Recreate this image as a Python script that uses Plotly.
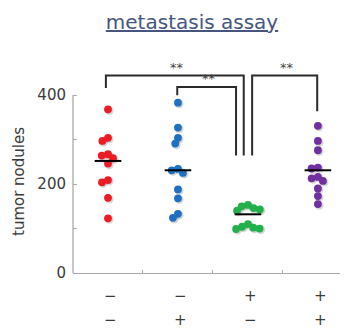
import numpy as np
import plotly.graph_objects as go

# ---------------- data ----------------
row1_labels = ["−", "−", "+", "+"]
row2_labels = ["−", "+", "−", "+"]
group_colors = ["#ec1c24", "#1f70c1", "#21b04b", "#7030a0"]

red_values = [368, 304, 297, 267, 264, 258, 246, 209, 204, 169, 123]
blue_values = [383, 327, 304, 291, 234, 231, 225, 188, 168, 133, 124]
green_values = [153, 150, 146, 143, 140, 110, 104, 102, 100, 99]
purple_values = [331, 297, 276, 237, 235, 216, 213, 207, 190, 173, 155]
group_means = [252, 231, 132, 231]

y_tick_values = [0, 100, 200, 300, 400]
y_tick_labels = ["0", "", "200", "", "400"]

# significance comparisons: (group a, group b, label)
comparisons = [(0, 2, "**"), (1, 2, "**"), (2, 3, "**")]

groups = [red_values, blue_values, green_values, purple_values]

# ---------------- layout constants ----------------
# the page body adds an 8px margin, so the figure is 8px smaller than the window
W, H = 340, 321
ML, MR, MT, MB = 65, 0, 56, 56
X_RANGE = [-0.5, 3.43]
Y_RANGE = [0, 470]
plot_w = W - ML - MR
plot_h = H - MT - MB
PX_X = plot_w / (X_RANGE[1] - X_RANGE[0])   # pixels per category unit
PX_Y = plot_h / (Y_RANGE[1] - Y_RANGE[0])   # pixels per value unit
FONT = "DejaVu Sans"
TEXT = "#3a3a3a"
AXIS = "#a9a9a9"


def swarm(values, diameter=6.4):
    """Simple beeswarm: place points (largest first) as close to centre as possible."""
    order = sorted(range(len(values)), key=lambda k: -values[k])
    placed = []
    offs = [0.0] * len(values)
    for k in order:
        y = values[k] * PX_Y
        cands = [0.0]
        intervals = []
        for px, py in placed:
            dy = abs(py - y)
            if dy < diameter:
                w = np.sqrt(diameter ** 2 - dy ** 2)
                intervals.append((px - w, px + w))
                cands += [px - w, px + w]
        ok = [c for c in cands if all(not (a + 1e-6 < c < b - 1e-6) for a, b in intervals)]
        best = min(ok, key=lambda c: (abs(c), c))
        placed.append((best, y))
        offs[k] = best / PX_X
    return offs


fig = go.Figure()

# shadows first
for i, vals in enumerate(groups):
    offs = swarm(vals)
    xs = [i + o + 1.3 / PX_X for o in offs]
    ys = [v - 1.3 / PX_Y for v in vals]
    fig.add_trace(go.Scatter(x=xs, y=ys, mode="markers",
                             marker=dict(size=8.5, color="rgba(0,0,0,0.16)", line=dict(width=0)),
                             hoverinfo="skip", showlegend=False))

for i, vals in enumerate(groups):
    offs = swarm(vals)
    xs = [i + o for o in offs]
    fig.add_trace(go.Scatter(x=xs, y=vals, mode="markers",
                             marker=dict(size=7.8, color=group_colors[i], line=dict(width=0)),
                             showlegend=False))

# mean lines
mx, my = [], []
for i, m in enumerate(group_means):
    mx += [i - 0.19, i + 0.19, None]
    my += [m, m, None]
fig.add_trace(go.Scatter(x=mx, y=my, mode="lines", line=dict(color="black", width=2),
                         hoverinfo="skip", showlegend=False))

# significance brackets (layout decoration)
bracket_geom = {
    (0, 2): dict(xa=-0.03, xb=1.94, top=444, ya=416, yb=264),
    (1, 2): dict(xa=0.99, xb=1.83, top=418, ya=400, yb=264),
    (2, 3): dict(xa=2.06, xb=2.99, top=444, ya=264, yb=364),
}
for a, b, lab in comparisons:
    g = bracket_geom[(a, b)]
    fig.add_shape(type="path",
                  path=f"M {g['xa']},{g['ya']} L {g['xa']},{g['top']} L {g['xb']},{g['top']} L {g['xb']},{g['yb']}",
                  xref="x", yref="y", line=dict(color="#2b2b2b", width=2))
    fig.add_annotation(x=(g['xa'] + g['xb']) / 2 + 0.03, y=g['top'], xref="x", yref="y",
                       text=lab, showarrow=False, xanchor="center", yanchor="bottom", yshift=-1,
                       font=dict(family=FONT, size=13, color="#444444"))

# y axis line only from 0 to 400
fig.add_shape(type="line", xref="paper", yref="y", x0=0, x1=0, y0=0, y1=400,
              line=dict(color=AXIS, width=1.3))

# two rows of +/- labels
for i in range(4):
    fig.add_annotation(x=i + 0.04, y=-23 / plot_h, xref="x", yref="paper", text=row1_labels[i],
                       showarrow=False, xanchor="center", yanchor="middle", borderpad=0,
                       font=dict(family=FONT, size=15, color=TEXT))
    fig.add_annotation(x=i + 0.04, y=-47 / plot_h, xref="x", yref="paper", text=row2_labels[i],
                       showarrow=False, xanchor="center", yanchor="middle", borderpad=0,
                       font=dict(family=FONT, size=15, color=TEXT))

# y axis title
fig.add_annotation(x=(11 - ML) / plot_w, y=(H - MB - 174) / plot_h, xref="paper", yref="paper",
                   text="tumor nodules", textangle=-90, showarrow=False,
                   xanchor="center", yanchor="middle",
                   font=dict(family=FONT, size=15, color=TEXT))

fig.update_layout(
    width=W, height=H,
    margin=dict(l=ML, r=MR, t=MT, b=MB, pad=0),
    paper_bgcolor="white", plot_bgcolor="white",
    title=dict(text="<u>metastasis assay</u>", x=184 / W, xref="container", xanchor="center",
               y=1 - 14 / H, yref="container", yanchor="middle",
               font=dict(family=FONT, size=20, color="#46557f")),
    xaxis=dict(range=X_RANGE, showgrid=False, zeroline=False, showline=True, linecolor=AXIS,
               linewidth=1.3, tickvals=[0.5, 1.5, 2.5], ticks="inside", ticklen=3,
               tickcolor=AXIS, tickwidth=1.2, showticklabels=False),
    yaxis=dict(range=Y_RANGE, showgrid=False, zeroline=False, showline=False,
               tickvals=y_tick_values, ticktext=y_tick_labels, ticks="inside", ticklen=4,
               tickcolor=AXIS, tickwidth=1.2, ticklabelstandoff=6,
               tickfont=dict(family=FONT, size=15, color=TEXT)),
)

fig.write_html("out.html")
